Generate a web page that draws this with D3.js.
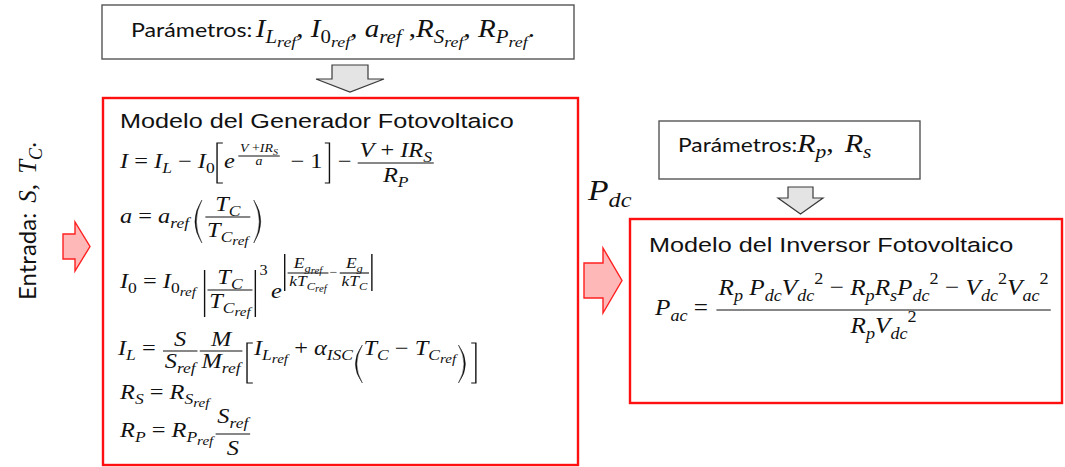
<!DOCTYPE html>
<html>
<head>
<meta charset="utf-8">
<script src="https://cdn.jsdelivr.net/npm/d3@7"></script>
<style>
  body { margin: 0; background: #fff; }
  svg { display: block; }
</style>
</head>
<body>
<div id="chart"></div>
<script>
// texts of the diagram (tex-lite: _ sub, ^ sup, {} groups)
var titles = ["Modelo del Generador Fotovoltaico", "Modelo del Inversor Fotovoltaico"];
var paramWord = "Parámetros:";
var paramsGen = ["I_{L_{ref}}", "I_{0_{ref}}", "a_{ref}", "R_{S_{ref}}", "R_{P_{ref}}"];
var paramsInv = ["R_{p}", "R_{s}"];
var inputWord = "Entrada:";
var inputs = ["S", "T_{C}"];
var linkLabel = "P_{dc}";

var MATH = "'Liberation Serif', 'Times New Roman', serif";
var SANS = "Lato, 'Liberation Sans', sans-serif";
var ARIAL = "'Liberation Sans', Arial, sans-serif";
var RED = "#ff1010";

var svg = d3.select("#chart").append("svg").attr("width", 1065).attr("height", 467);

// --- tiny math typesetter ---
function parse(s){
  var i = 0;
  function group(){
    var out = [];
    while(i < s.length){
      var c = s[i];
      if(c === "}"){ i++; return out; }
      if(c === "_" || c === "^"){
        i++;
        var kids;
        if(s[i] === "{"){ i++; kids = group(); } else { kids = [{t: s[i]}]; i++; }
        out.push({k: c, kids: kids});
        continue;
      }
      out.push({t: c}); i++;
    }
    return out;
  }
  return group();
}

function flat(nodes, fs, off, acc, depth){
  nodes.forEach(function(n){
    if(n.k){
      var o2 = n.k === "_" ? off + fs*(depth ? 0.2 : 0.24) : off - fs*0.45;
      flat(n.kids, fs*(depth ? 0.86 : 0.72), o2, acc, depth + 1);
    } else {
      var it = /[A-Za-zα]/.test(n.t);
      var last = acc[acc.length-1];
      if(last && last.fs === fs && last.off === off && last.it === it) last.t += n.t;
      else acc.push({t: n.t, fs: fs, off: off, it: it});
    }
  });
  return acc;
}

function mt(g, s, fs, fam){
  var t = g.append("text").attr("fill", "#111").style("white-space", "pre");
  if(fam){
    t.attr("font-family", fam).attr("font-size", fs).text(s);
  } else {
    t.attr("font-family", MATH);
    var prev = 0;
    flat(parse(s), fs, 0, [], 0).forEach(function(p){
      t.append("tspan").attr("dy", p.off - prev).attr("font-size", p.fs)
        .attr("font-style", p.it ? "italic" : null).text(p.t);
      prev = p.off;
    });
  }
  return {t: t, w: t.node().getComputedTextLength()};
}

var Row = function(parent, tr, fs){
   var r = this;
   var g = parent.append("g").attr("transform", tr);
   r.x = 0;

   r.m = function(s, o){
      o = o || {};
      var a = mt(g, s, o.fs || fs, o.fam);
      a.t.attr("x", r.x).attr("y", o.dy || 0);
      r.x += a.w + (o.after || 0);
      return r;
   };

   r.f = function(num, den, o){
      var s = o.fs || fs, p = o.pad == null ? 1.5 : o.pad;
      var a = mt(g, num, s), b = mt(g, den, s);
      var w = Math.max(a.w, b.w) + 2*p;
      a.t.attr("x", r.x + (w - a.w)/2).attr("y", o.nd);
      b.t.attr("x", r.x + (w - b.w)/2).attr("y", o.dd);
      g.append("line").attr("x1", r.x).attr("x2", r.x + w).attr("y1", o.bd).attr("y2", o.bd)
        .attr("stroke", "#111").attr("stroke-width", o.sw || 1.1);
      r.x += w + (o.after || 0);
      return r;
   };

   r.br = function(k, t, b, o){
      o = o || {};
      var w = o.w || 6, x = r.x, m = (t + b)/2, d, fill = "none";
      if(k === "["){ d = "M" + (x+w) + "," + t + "H" + (x+1) + "V" + b + "H" + (x+w); }
      if(k === "]"){ d = "M" + (x+1) + "," + t + "H" + (x+w-1) + "V" + b + "H" + (x+1); }
      if(k === "("){ d = "M" + (x+w) + "," + t + "Q" + (x+2-w) + "," + m + " " + (x+w) + "," + b +
                        "Q" + (x+4.5-w) + "," + m + " " + (x+w) + "," + t + "Z"; fill = "#111"; }
      if(k === ")"){ d = "M" + x + "," + t + "Q" + (x+2*w-2) + "," + m + " " + x + "," + b +
                        "Q" + (x+2*w-4.5) + "," + m + " " + x + "," + t + "Z"; fill = "#111"; }
      if(k === "|"){ d = "M" + (x+1.5) + "," + t + "V" + b; w = 3; }
      g.append("path").attr("d", d).attr("fill", fill)
        .attr("stroke", "#111").attr("stroke-width", fill === "none" ? 1.2 : 0.4);
      r.x += w + (o.after || 0);
      return r;
   };
};

function at(x, y, sx){ return "translate(" + x + "," + y + ") scale(" + (sx || 1) + ",1)"; }

// --- boxes and arrows ---
function box(x, y, w, h, col, sw){
   svg.append("rect").attr("x", x).attr("y", y).attr("width", w).attr("height", h)
     .attr("fill", "#fff").attr("stroke", col).attr("stroke-width", sw);
}
box(102, 5, 472, 54, "#555", 1.4);
box(659, 121, 261, 58, "#555", 1.4);
box(103, 98, 475, 367, RED, 2.4);
box(630, 219, 432, 184, RED, 2.4);

var arrowLine = d3.line();
function downArrow(cx, top, neck, tip, sh, hh){
   var pts = [[cx-sh, top], [cx+sh, top], [cx+sh, neck], [cx+hh, neck], [cx, tip], [cx-hh, neck], [cx-sh, neck]];
   svg.append("path").attr("d", arrowLine(pts) + "Z")
     .attr("fill", "#e4e4e4").attr("stroke", "#3a3a3a").attr("stroke-width", 1.2);
}
function rightArrow(x0, neck, tip, cy, sh, hh){
   var pts = [[x0, cy-sh], [neck, cy-sh], [neck, cy-hh], [tip, cy], [neck, cy+hh], [neck, cy+sh], [x0, cy+sh]];
   svg.append("path").attr("d", arrowLine(pts) + "Z")
     .attr("fill", "#ffb8b8").attr("stroke", "#ff2020").attr("stroke-width", 1.4);
}
downArrow(350, 65, 79, 92, 18, 34);
downArrow(800.5, 187, 198, 214, 12.5, 22.5);
rightArrow(63, 75, 90, 246.5, 12.5, 24.5);
rightArrow(584, 603, 622, 280.5, 17.5, 32.5);

// --- texts ---
var SX = 1.16;

var p1 = new Row(svg, at(131, 37, 1.16), 25);
p1.m(paramWord, {fam: SANS, fs: 20, after: 3});
p1.m(paramsGen[0] + ", " + paramsGen[1] + ", " + paramsGen[2] + " ," + paramsGen[3] + ", " + paramsGen[4] + ".");

var p2 = new Row(svg, at(678, 152, 1.2), 25);
p2.m(paramWord, {fam: SANS, fs: 19});
p2.m(paramsInv[0] + ",", {after: 9}).m(paramsInv[1]);

var inp = new Row(svg, "translate(36,300) rotate(-90)", 23);
inp.m(inputWord, {fam: SANS, fs: 24, after: 10});
inp.m("S, ", {fs: 25, after: 4}).m(inputs[1] + ".", {fs: 25});

new Row(svg, at(588, 200, SX), 29).m(linkLabel);

new Row(svg, at(120, 128, 1.23), 20.5).m(titles[0], {fam: ARIAL});
new Row(svg, at(649, 252, 1.23), 20.5).m(titles[1], {fam: ARIAL});

// generator model equations
var FS = 21;
var e1 = new Row(svg, at(120, 168, SX), FS);
e1.m("I = I_{L} − I_{0}", {after: 1}).br("[", -25, 15, {after: 1}).m("e", {after: 3})
  .f("V +IR_{S}", "a", {fs: 12, nd: -16, bd: -12, dd: -3, after: 4})
  .m(" − 1", {after: 1}).br("]", -25, 15, {after: 1}).m(" − ")
  .f("V + IR_{S}", "R_{P}", {nd: -11, bd: -5, dd: 14});

var e2 = new Row(svg, at(120, 223, SX), FS);
e2.m("a = a_{ref}", {after: 4}).br("(", -23, 20, {w: 7, after: 3})
  .f("T_{C}", "T_{C_{ref}}", {nd: -12, bd: -6, dd: 14, after: 3}).br(")", -23, 20, {w: 7});

var e3 = new Row(svg, at(120, 288, SX), FS);
e3.m("I_{0} = I_{0_{ref}}", {after: 6}).br("|", -18, 29, {after: 1})
  .f("T_{C}", "T_{C_{ref}}", {nd: -4, bd: 2, dd: 20, after: 1}).br("|", -18, 29, {after: 2})
  .m("3", {fs: 14, dy: -13, after: 3}).m("e", {dy: 10, after: 1})
  .br("|", -34, 3, {after: 1})
  .f("E_{g_{ref}}", "kT_{C_{ref}}", {fs: 15, nd: -20, bd: -15, dd: -2, pad: 1.5, after: 1})
  .m("−", {fs: 12, dy: -12, after: 2})
  .f("E_{g}", "kT_{C}", {fs: 15, nd: -20, bd: -15, dd: -2, pad: 1.5, after: 1})
  .br("|", -34, 3);

var e4 = new Row(svg, at(118, 355, SX), FS);
e4.m("I_{L} = ", {after: 1}).f("S", "S_{ref}", {nd: -9, bd: -4, dd: 13, after: 2})
  .f("M", "M_{ref}", {nd: -9, bd: -4, dd: 13, after: 3})
  .br("[", -12, 28, {after: 1}).m("I_{L_{ref}} + α_{ISC}", {after: 1})
  .br("(", -10, 28, {w: 7, after: 1}).m("T_{C} − T_{C_{ref}}", {after: 2})
  .br(")", -10, 28, {w: 7, after: 3}).br("]", -12, 28);

new Row(svg, at(120, 399, SX), FS).m("R_{S} = R_{S_{ref}}");

var e6 = new Row(svg, at(120, 437, SX), FS);
e6.m("R_{P} = R_{P_{ref}}", {after: 2}).f("S_{ref}", "S", {nd: -14, bd: -3, dd: 18});

// inverter model equation
var e7 = new Row(svg, at(655, 315, 1.05), 24);
e7.m("P_{ac} = ", {after: 2})
  .f("R_{p} P_{dc}V_{dc}^{2} − R_{p}R_{s}P_{dc}^{2} − V_{dc}^{2}V_{ac}^{2}", "R_{p}V_{dc}^{2}",
     {nd: -20, bd: -5, dd: 18, pad: 2});
</script>
</body>
</html>
